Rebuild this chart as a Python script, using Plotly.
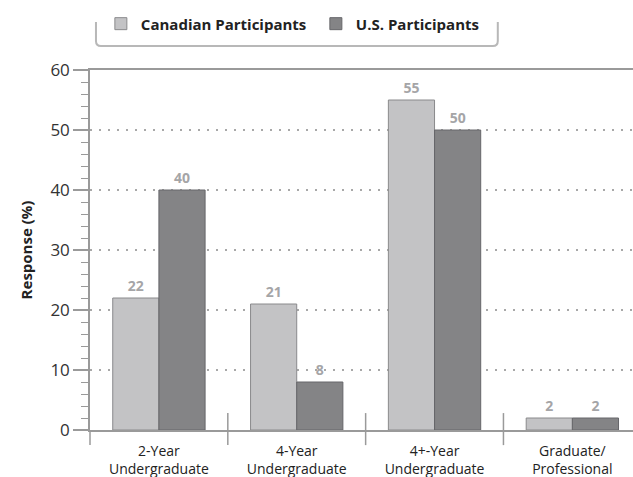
import plotly.graph_objects as go

categories = ["2-Year<br>Undergraduate", "4-Year<br>Undergraduate", "4+-Year<br>Undergraduate", "Graduate/<br>Professional"]
canadian = [22, 21, 55, 2]
us = [40, 8, 50, 2]
series_names = ["Canadian Participants", "U.S. Participants"]
y_ticks = [0, 10, 20, 30, 40, 50, 60]

FONT = "Open Sans"
AXIS_C = "#9a9a9a"

fig = go.Figure()
fig.add_trace(go.Bar(
    name=series_names[0], x=categories, y=canadian,
    marker=dict(color="#c3c3c5", line=dict(color="#8a8a8c", width=1)),
    text=canadian, textposition="outside", cliponaxis=False,
    textfont=dict(family=FONT, size=14, color="#a5a5a7", weight="bold"),
))
fig.add_trace(go.Bar(
    name=series_names[1], x=categories, y=us,
    marker=dict(color="#848486", line=dict(color="#66666a", width=1)),
    text=us, textposition="outside", cliponaxis=False,
    textfont=dict(family=FONT, size=14, color="#a5a5a7", weight="bold"),
))

n = len(categories)
xmax = n - 0.5 - 0.06
span = xmax + 0.5
shapes = []
# category dividers
for i in range(n):
    xp = i / span
    shapes.append(dict(type="line", xref="paper", yref="paper",
                       x0=xp, x1=xp, y0=-0.042, y1=(0.0 if i == 0 else 0.047),
                       line=dict(color=AXIS_C, width=1.5), layer="above"))
# legend box (open at top, rounded bottom)
lx0, lx1, ly0, ly1 = 0.011, 0.751, 1.0667, 1.133
r_x, r_y = 5 / 543, 5 / 360
path = (f"M{lx0},{ly1} L{lx0},{ly0 + r_y} Q{lx0},{ly0} {lx0 + r_x},{ly0} "
        f"L{lx1 - r_x},{ly0} Q{lx1},{ly0} {lx1},{ly0 + r_y} L{lx1},{ly1}")
shapes.append(dict(type="path", xref="paper", yref="paper", path=path,
                   line=dict(color="#b8b8b8", width=2), fillcolor="rgba(0,0,0,0)"))

fig.update_layout(
    width=633, height=477,
    margin=dict(l=90, r=0, t=70, b=47, autoexpand=False),
    plot_bgcolor="white", paper_bgcolor="white",
    barmode="group", bargap=0.33, bargroupgap=0,
    font=dict(family=FONT, color="#333333"),
    showlegend=True,
    legend=dict(orientation="h", x=0.02, y=1.128, xanchor="left", yanchor="middle",
                font=dict(family=FONT, size=15, color="#222222", weight="bold"),
                entrywidth=170, bgcolor="rgba(0,0,0,0)"),
    shapes=shapes,
    xaxis=dict(range=[-0.5, xmax], showline=True, mirror=True, linecolor=AXIS_C, linewidth=1.5,
               ticks="", ticklabelstandoff=7,
               tickfont=dict(family=FONT, size=14, color="#222222"),
               showgrid=False, fixedrange=True),
    yaxis=dict(range=[0, 60], tickvals=y_ticks, showline=True, linecolor=AXIS_C, linewidth=1.5,
               ticks="outside", ticklen=15, tickcolor=AXIS_C, tickwidth=1.5,
               minor=dict(dtick=2, ticks="outside", ticklen=7, tickcolor=AXIS_C, tickwidth=1, showgrid=False),
               tickfont=dict(family=FONT, size=17, color="#333333"),
               showgrid=True, gridcolor="#a8a8a8", gridwidth=2, griddash="2px,7px",
               zeroline=False,
               title=dict(text="Response (%)", font=dict(family=FONT, size=15, color="#222222", weight="bold"), standoff=14)),
)

fig.write_html("out.html")
